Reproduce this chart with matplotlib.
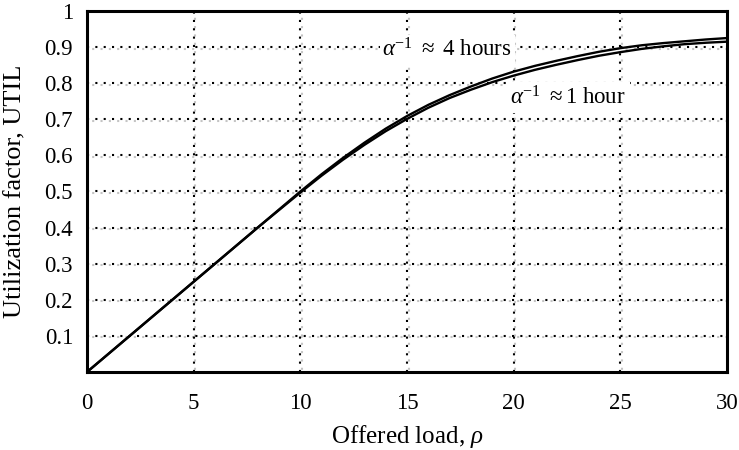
import matplotlib
matplotlib.use("Agg")
import matplotlib.pyplot as plt
import matplotlib.transforms as mtransforms

plt.rcParams['font.family'] = ['Liberation Serif', 'DejaVu Serif']
plt.rcParams['mathtext.fontset'] = 'custom'
plt.rcParams['mathtext.rm'] = 'Liberation Serif'
plt.rcParams['mathtext.it'] = 'Liberation Serif:italic'
plt.rcParams['mathtext.bf'] = 'Liberation Serif:bold'
plt.rcParams['mathtext.fallback'] = 'stix'

rho = [0, 2, 4, 6, 8, 10, 11, 12, 13, 14, 15, 16, 17, 18, 19, 20,
       21, 22, 23, 24, 25, 26, 27, 28, 29, 30]
util_4h = [0, 0.1, 0.2, 0.3, 0.4, 0.5, 0.548, 0.593, 0.635, 0.674, 0.709,
           0.74, 0.767, 0.791, 0.813, 0.832, 0.848, 0.862, 0.875, 0.887,
           0.897, 0.905, 0.911, 0.916, 0.921, 0.925]
util_1h = [0, 0.1, 0.2, 0.3, 0.4, 0.497, 0.544, 0.588, 0.629, 0.667, 0.701,
           0.732, 0.759, 0.782, 0.803, 0.821, 0.837, 0.851, 0.864, 0.876,
           0.886, 0.895, 0.902, 0.908, 0.912, 0.915]
xticks = [0, 5, 10, 15, 20, 25, 30]
yticks = [0.1, 0.2, 0.3, 0.4, 0.5, 0.6, 0.7, 0.8, 0.9, 1.0]
ytick_labels = ['0.1', '0.2', '0.3', '0.4', '0.5', '0.6', '0.7', '0.8', '0.9', '1']

fig = plt.figure(figsize=(7.39, 4.5), dpi=100)
ax = fig.add_axes([0.1177, 0.1733, 0.8661, 0.8023])
ax.set_xlim(0, 30)
ax.set_ylim(0, 1)

# dotted grid with light grey shadow
shadow = mtransforms.offset_copy(ax.transData, fig=fig, x=1.5, y=-1.5, units='dots')
dots = (0, (1, 3))
sdots = (2, (1, 3))
for xv in xticks[1:-1]:
    ax.plot([xv, xv], [0, 1], color='#c4c4c4', lw=1.5, ls=sdots, transform=shadow, zorder=1)
    ax.plot([xv, xv], [0, 1], color='black', lw=1.5, ls=dots, zorder=1.5)
for yv in yticks[:-1]:
    ax.plot([0, 30], [yv, yv], color='#c4c4c4', lw=1.5, ls=sdots, transform=shadow, zorder=1)
    ax.plot([0, 30], [yv, yv], color='black', lw=1.5, ls=dots, zorder=1.5)

ax.text(13.85, 0.893, r'$\alpha^{-1}\ \approx\ 4\ \mathrm{hours}$', fontsize=16.5, va='center', ha='left',
        bbox=dict(facecolor='white', edgecolor='none', pad=2), zorder=2)
ax.text(19.85, 0.76, r'$\alpha^{-1}\ \approx 1\ \mathrm{hour}$', fontsize=16.5, va='center', ha='left',
        bbox=dict(facecolor='white', edgecolor='none', pad=3), zorder=2)

ax.plot(rho, util_4h, color='black', lw=1.7, zorder=3)
ax.plot(rho, util_1h, color='black', lw=1.7, zorder=3)

ax.set_xticks(xticks)
ax.set_xticklabels([str(v) for v in xticks])
ax.set_yticks(yticks)
ax.set_yticklabels(ytick_labels)
ax.tick_params(axis='both', length=0, labelsize=16.5)
ax.tick_params(axis='x', pad=15)
ax.tick_params(axis='y', pad=10)
for s in ax.spines.values():
    s.set_linewidth(2.2)
    s.set_zorder(4)

ax.set_xlabel(r'Offered load, $\rho$', fontsize=18)
ax.set_ylabel('Utilization factor, UTIL', fontsize=19)
ax.xaxis.set_label_coords(0.5, -0.14)
ax.yaxis.set_label_coords(-0.094, 0.5)

fig.savefig('out.png', dpi=100)
